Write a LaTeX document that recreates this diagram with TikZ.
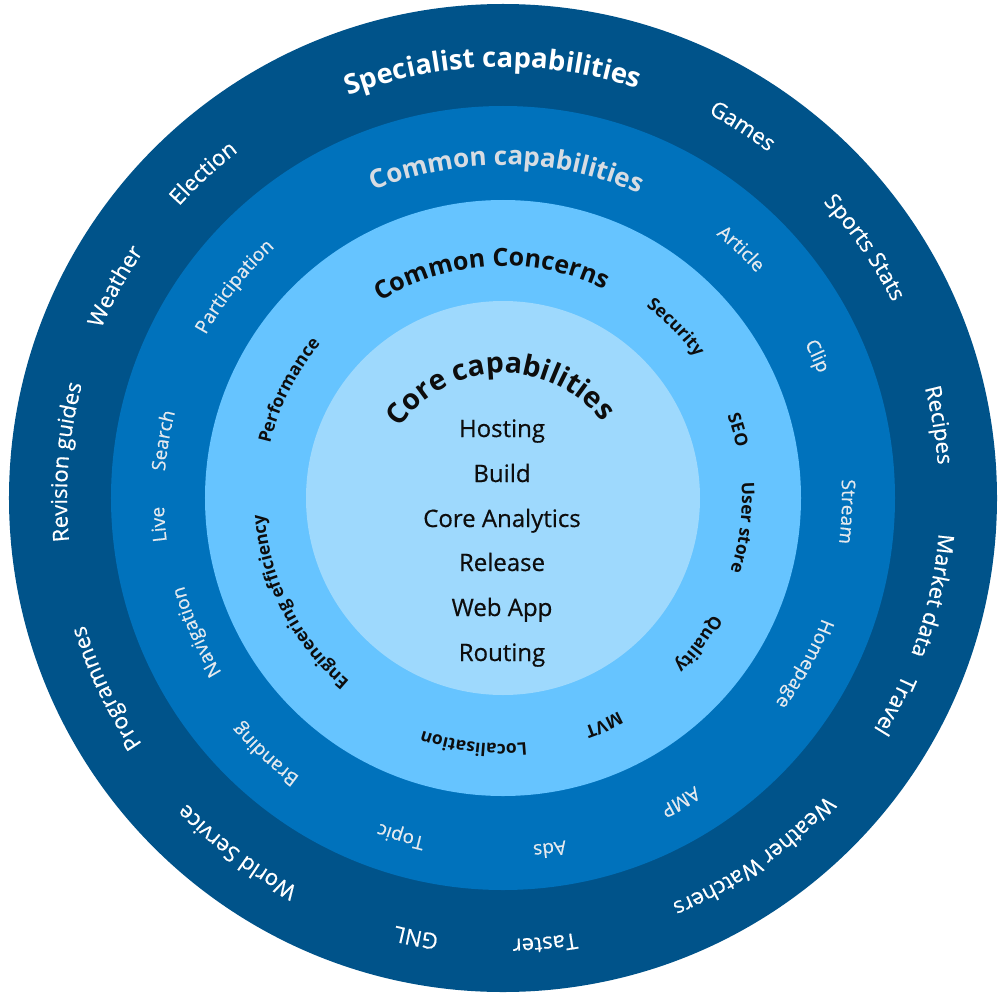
\documentclass[tikz,border=0pt]{standalone}
\usepackage{fontspec}
\setmainfont{Open Sans}
\newfontfamily\medfam{Open Sans}[FakeBold=0.5]
\usetikzlibrary{decorations.text}
\definecolor{ringA}{HTML}{00538A}
\definecolor{ringB}{HTML}{0072BC}
\definecolor{ringC}{HTML}{66C4FF}
\definecolor{ringD}{HTML}{9ED9FD}
\definecolor{greytext}{HTML}{D7DCE2}
\definecolor{paletext}{HTML}{E4E9EE}
\definecolor{inktext}{HTML}{0D0D0D}
\newcommand\fsz[1]{\fontsize{#1}{#1}\selectfont}
% #1 centre angle, #2 baseline radius, #3 half span, #4 format, #5 text
\newcommand\ringlabel[5]{\path[decorate,decoration={text along path,text={|#4|#5},text align=center}] ({#1+#3}:#2) arc[start angle={#1+#3},end angle={#1-#3},radius=#2];}
\newcommand\outerfmt{\medfam\fsz{22}\color{white}}
\newcommand\midfmt{\medfam\fsz{19}\color{paletext}}
\newcommand\lightfmt{\fsz{17.5}\bfseries\color{inktext}}
\tikzset{corelist/.style={font=\medfam\fsz{24}, text=inktext, anchor=base, inner sep=0pt}}
\begin{document}
\begin{tikzpicture}[x=1pt,y=1pt]
\useasboundingbox (-503,-504) rectangle (505,498);
\fill[ringA] (0,0) circle[radius=494];
\fill[ringB] (0,0) circle[radius=392];
\fill[ringC] (0,0) circle[radius=298];
\fill[ringD] (0,0) circle[radius=197];
% titles
\ringlabel{91.4}{431}{40}{\fsz{27.5}\bfseries\color{white}}{Specialist capabilities}
\ringlabel{89.4}{333}{45}{\fsz{26}\bfseries\color{greytext}}{Common capabilities}
\ringlabel{93}{232}{60}{\fsz{25}\bfseries\color{inktext}}{Common Concerns}
\ringlabel{91.6}{125}{80}{\fsz{28.5}\bfseries\color{inktext}}{Core capabilities}
% outer ring
\ringlabel{57.2}{436}{40}{\outerfmt}{Games}
\ringlabel{34.7}{436}{40}{\outerfmt}{Sports Stats}
\ringlabel{9.5}{436}{40}{\outerfmt}{Recipes}
\ringlabel{-12.8}{437}{40}{\outerfmt}{Market data}
\ringlabel{-27.9}{437}{40}{\outerfmt}{Travel}
\ringlabel{-55}{439}{40}{\outerfmt}{Weather Watchers}
\ringlabel{-84.6}{441}{40}{\outerfmt}{Taster}
\ringlabel{-101.2}{441}{40}{\outerfmt}{GNL}
\ringlabel{-126.9}{440}{40}{\outerfmt}{World Service}
\ringlabel{-154.4}{437}{40}{\outerfmt}{Programmes}
\ringlabel{175.3}{436}{40}{\outerfmt}{Revision guides}
\ringlabel{151.4}{436}{40}{\outerfmt}{Weather}
\ringlabel{132.7}{436}{40}{\outerfmt}{Election}
% common capabilities ring
\ringlabel{46.3}{339}{40}{\midfmt}{Article}
\ringlabel{24.3}{339}{40}{\midfmt}{Clip}
\ringlabel{-2.3}{339}{40}{\midfmt}{Stream}
\ringlabel{-28.8}{341}{40}{\midfmt}{Homepage}
\ringlabel{-59.7}{346}{40}{\midfmt}{AMP}
\ringlabel{-82.4}{348}{40}{\midfmt}{Ads}
\ringlabel{-106.8}{348}{40}{\midfmt}{Topic}
\ringlabel{-132.8}{345}{40}{\midfmt}{Branding}
\ringlabel{-156.4}{331}{40}{\midfmt}{Navigation}
\ringlabel{184.4}{339}{40}{\midfmt}{Live}
\ringlabel{170.4}{339}{40}{\midfmt}{Search}
\ringlabel{141.8}{339}{40}{\midfmt}{Participation}
% common concerns ring
\ringlabel{44.7}{239}{50}{\lightfmt}{Security}
\ringlabel{16.1}{239}{50}{\lightfmt}{SEO}
\ringlabel{-7.1}{239}{50}{\lightfmt}{User store}
\ringlabel{-36.8}{240}{50}{\lightfmt}{Quality}
\ringlabel{-66}{243}{50}{\lightfmt}{MVT}
\ringlabel{-96.8}{246}{50}{\lightfmt}{Localisation}
\ringlabel{-153}{239}{50}{\lightfmt}{Engineering efficiency}
\ringlabel{153.3}{239}{50}{\lightfmt}{Performance}
% core list
\node[corelist] (hosting) at (-1,61) {Hosting};
\node[corelist] (build) at (-1,16) {Build};
\node[corelist] (analytics) at (-1,-29) {Core Analytics};
\node[corelist] (release) at (-1,-73) {Release};
\node[corelist] (webapp) at (-1,-118) {Web App};
\node[corelist] (routing) at (-1,-163) {Routing};
\end{tikzpicture}
\end{document}
